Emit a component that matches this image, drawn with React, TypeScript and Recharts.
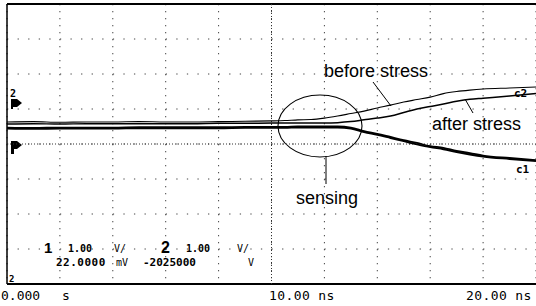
import { LineChart, Line, XAxis, YAxis, CartesianGrid, ReferenceLine, Customized } from 'recharts';

// time in ns, traces in screen divisions (1 div = 1 V)
const timeNs = [0, 1, 2, 3, 4, 5, 6, 7, 8, 9, 10, 10.5, 11, 11.5, 12, 12.5, 13, 13.5, 14, 14.5, 15, 15.5, 16, 16.5, 17, 17.5, 18, 19, 20];
const c2Before = [0.63, 0.64, 0.62, 0.63, 0.63, 0.64, 0.63, 0.63, 0.64, 0.65, 0.66, 0.67, 0.69, 0.70, 0.74, 0.80, 0.87, 0.94, 1.03, 1.11, 1.20, 1.27, 1.34, 1.44, 1.50, 1.54, 1.57, 1.60, 1.63];
const c2After = [0.57, 0.58, 0.57, 0.58, 0.58, 0.58, 0.58, 0.58, 0.59, 0.59, 0.60, 0.60, 0.60, 0.60, 0.60, 0.61, 0.64, 0.69, 0.74, 0.80, 0.90, 1.00, 1.07, 1.14, 1.22, 1.28, 1.31, 1.37, 1.44];
const c1Before = [0.47, 0.46, 0.47, 0.47, 0.47, 0.48, 0.48, 0.48, 0.48, 0.49, 0.49, 0.49, 0.50, 0.50, 0.50, 0.50, 0.47, 0.37, 0.29, 0.20, 0.11, 0.03, -0.06, -0.11, -0.20, -0.26, -0.33, -0.40, -0.46];
const c1After = [0.44, 0.43, 0.44, 0.44, 0.44, 0.45, 0.45, 0.45, 0.45, 0.46, 0.46, 0.46, 0.47, 0.47, 0.47, 0.47, 0.44, 0.34, 0.26, 0.17, 0.08, -0.01, -0.09, -0.15, -0.23, -0.30, -0.36, -0.43, -0.49];

const xTicks = [0, 2, 4, 6, 8, 10, 12, 14, 16, 18, 20];
const yTicks = [-4, -3, -2, -1, 0, 1, 2, 3, 4];

const data = timeNs.map((t, i) => ({
    t,
    c2b: c2Before[i],
    c2a: c2After[i],
    c1b: c1Before[i],
    c1a: c1After[i],
}));

const mono = '"DejaVu Sans Mono", monospace';
const sans = '"Liberation Sans", Arial, sans-serif';

function Overlay() {
    return (
        <g>
            {/* scope frame */}
            <line x1={7} y1={4} x2={7} y2={284} stroke="#000" strokeWidth={1.5} />
            <line x1={7} y1={4} x2={536} y2={4} stroke="#000" strokeWidth={2} />
            <line x1={7} y1={284} x2={536} y2={284} stroke="#000" strokeWidth={2} />

            {/* channel markers */}
            <text x={10} y={97} fontFamily={mono} fontSize={10} fontWeight={700}>2</text>
            <polygon points="11,99 17,99 22,103 17,107 13,107 13,109 11,109" fill="#000" />
            <polygon points="11,141 17,141 22,145 17,149 14,149 14,154 11,154" fill="#000" />
            <text x={9} y={282} fontFamily={mono} fontSize={9} fontWeight={700}>2</text>

            {/* annotations */}
            <ellipse cx={320} cy={126} rx={42} ry={31} fill="none" stroke="#000" strokeWidth={1.1} />
            <text x={324} y={77} fontFamily={sans} fontSize={18}>before stress</text>
            <line x1={373} y1={82} x2={391} y2={106} stroke="#000" strokeWidth={1} />
            <text x={432} y={130} fontFamily={sans} fontSize={18}>after stress</text>
            <line x1={465} y1={99} x2={473} y2={113} stroke="#000" strokeWidth={1} />
            <text x={296} y={204} fontFamily={sans} fontSize={18}>sensing</text>
            <line x1={326} y1={156} x2={326} y2={184} stroke="#000" strokeWidth={1} />
            <text x={514} y={97} fontFamily={mono} fontSize={11} fontWeight={700}>c2</text>
            <text x={516} y={173} fontFamily={mono} fontSize={11} fontWeight={700}>c1</text>

            {/* channel readout */}
            <text x={44} y={253} fontFamily={sans} fontSize={15} fontWeight={700}>1</text>
            <text x={68} y={252} fontFamily={mono} fontSize={10} fontWeight={700}>1.00</text>
            <text x={114} y={252} fontFamily={mono} fontSize={10}>V/</text>
            <text x={161} y={253} fontFamily={sans} fontSize={16} fontWeight={700}>2</text>
            <text x={186} y={252} fontFamily={mono} fontSize={10} fontWeight={700}>1.00</text>
            <text x={237} y={252} fontFamily={mono} fontSize={10}>V/</text>
            <text x={56} y={266} fontFamily={mono} fontSize={11} fontWeight={700} letterSpacing={0.5}>22.0000</text>
            <text x={116} y={266} fontFamily={mono} fontSize={10}>mV</text>
            <text x={143} y={266} fontFamily={mono} fontSize={11} fontWeight={700}>-2025000</text>
            <text x={248} y={266} fontFamily={mono} fontSize={10}>V</text>

            {/* time base labels */}
            <text x={1} y={300} fontFamily={mono} fontSize={13}>0.000</text>
            <text x={62} y={300} fontFamily={mono} fontSize={13}>s</text>
            <text x={269} y={300} fontFamily={mono} fontSize={13} letterSpacing={0.4}>10.00 ns</text>
            <text x={466} y={300} fontFamily={mono} fontSize={13} letterSpacing={0.4}>20.00 ns</text>
        </g>
    );
}

export default function App() {
    return (
        <div style={{ width: 536, height: 306, background: '#fff' }}>
            <style>{'body{margin:0}'}</style>
            <LineChart width={536} height={306} data={data} margin={{ top: 4, right: 0, bottom: 22, left: 7 }}>
                <XAxis dataKey="t" type="number" domain={[0, 20]} ticks={xTicks} hide />
                <YAxis type="number" domain={[-4, 4]} ticks={yTicks} hide />
                <CartesianGrid vertical={false} stroke="#444" strokeDasharray="1.3 9.28" />
                <CartesianGrid horizontal={false} stroke="#444" strokeDasharray="1.3 5.7" />
                <ReferenceLine y={0} stroke="#333" strokeDasharray="1 2" />
                <ReferenceLine x={10} stroke="#333" strokeDasharray="1 2" />
                <Line type="monotone" dataKey="c1a" stroke="#000" strokeWidth={1.8} dot={false} isAnimationActive={false} />
                <Line type="monotone" dataKey="c1b" stroke="#000" strokeWidth={1.8} dot={false} isAnimationActive={false} />
                <Line type="monotone" dataKey="c2a" stroke="#000" strokeWidth={1.5} dot={false} isAnimationActive={false} />
                <Line type="monotone" dataKey="c2b" stroke="#000" strokeWidth={1.1} dot={false} isAnimationActive={false} />
                <Customized component={<Overlay />} />
            </LineChart>
        </div>
    );
}
